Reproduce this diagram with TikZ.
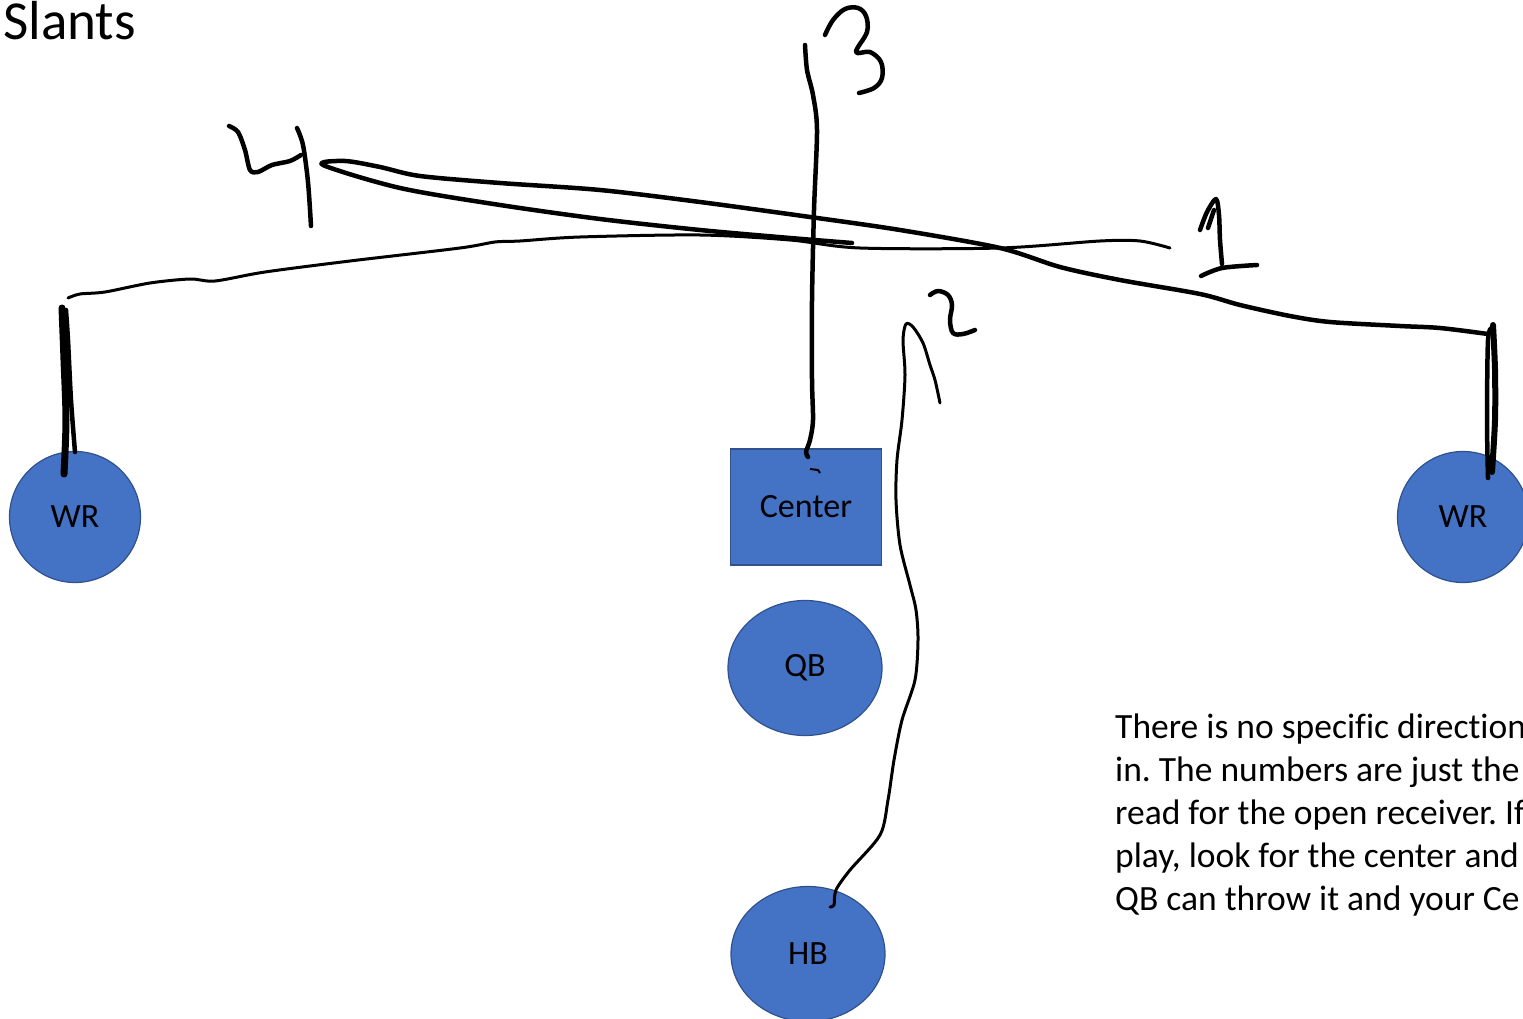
\documentclass[tikz,border=0pt]{standalone}
\usepackage{fontspec}
\setmainfont{Carlito}[Ligatures=CommonOff]
\usetikzlibrary{shapes.geometric}
\definecolor{playerblue}{HTML}{4472C4}
\definecolor{playeredge}{HTML}{2F528F}
\frenchspacing

\begin{document}
\begin{tikzpicture}[x=1pt,y=-1pt,
    player/.style={fill=playerblue, draw=playeredge, line width=1.2pt,
      font=\fontsize{34}{40}\selectfont, inner sep=0pt},
    wr/.style={player, circle, minimum size=131pt},
    back/.style={player, ellipse, minimum width=154pt, minimum height=135pt},
    ink/.style={line width=4.5pt, line cap=round, line join=round},
    thinink/.style={line width=3pt, line cap=round, line join=round},
    notes/.style={align=left, anchor=base west, inner sep=0pt,
      font=\fontsize{35.5}{43}\selectfont}]
  \useasboundingbox (0,0) rectangle (1523,1019);
  \clip (0,0) rectangle (1523,1019);

  \node (title) [anchor=base west, inner sep=0pt, font=\fontsize{55}{60}\selectfont] at (3,40) {Slants};

  \node (lwr) [wr] at (75,517) {WR};
  \node (rwr) [wr] at (1463,517) {WR};
  \node (ctr) [player, rectangle, minimum width=151pt, minimum height=116pt] at (806,507) {Center};
  \node (qb) [back] at (805,668) {QB};
  \node (hb) [back] at (808,954) {HB};

  \node (note) [notes] at (1115,910) {There is no specific direction\\
    in. The numbers are just the\\
    read for the open receiver. If\\
    play, look for the center and\\
    QB can throw it and your Ce};

  % route 1
  \draw[line width=7pt, line cap=round] plot[smooth] coordinates {(64,474) (66,420) (64,360) (62,308)};
  \draw[ink] plot[smooth] coordinates {(75,452) (71,400) (68,340) (66,310)};
  \draw[thinink] plot[smooth, tension=0.5] coordinates {(68,298) (80,294) (105,292) (150,283) (190,279)
    (215,281) (265,272) (350,261) (460,248) (495,242) (520,241) (580,237) (700,235) (790,240)
    (860,248) (1000,248) (1100,241) (1140,241) (1170,248)};

  % route 4
  \draw[line width=6pt, line cap=round] plot[smooth] coordinates {(1492,472) (1495,420) (1495,370) (1493,325)};
  \draw[ink] plot[smooth] coordinates {(1488,478) (1487,420) (1488,340) (1492,328)};
  \draw[ink] plot[smooth, tension=0.5] coordinates {(1488,334) (1440,328) (1400,326) (1330,322)
    (1290,316) (1240,305) (1200,294) (1120,280) (1060,267) (1000,248) (900,230) (810,217)
    (700,202) (600,190) (500,183) (420,176) (380,167) (345,161) (323,165)
    (400,188) (500,205) (600,219) (700,230) (790,238) (852,243)};

  % route 3
  \draw[ink] plot[smooth, tension=0.5] coordinates {(808,457) (806,452) (810,440) (813,420)
    (812,380) (812,300) (814,210) (817,130) (813,95) (807,70) (805,45)};
  \draw[line width=2pt] (810,469) -- (818,470) -- (820,473);

  % route 2
  \draw[thinink] plot[smooth, tension=0.5] coordinates {(830,907) (834,905) (836,890) (850,870)
    (880,835) (888,800) (894,760) (902,720) (915,680) (918,640) (916,610) (910,585) (900,545)
    (896,500) (897,460) (902,420) (905,375) (903,340) (906,324) (913,327) (923,343) (930,365)
    (935,380) (940,403)};

  % read numbers
  \draw[ink] plot[smooth, tension=0.5] coordinates {(229,126) (238,132) (245,150) (250,170)
    (258,172) (272,165) (290,161) (301,155)};
  \draw[ink] plot[smooth, tension=0.5] coordinates {(297,128) (303,145) (308,182) (311,226)};
  \draw[ink] plot[smooth, tension=0.6] coordinates {(825,35) (833,20) (845,9) (858,8) (866,16)
    (867,32) (856,52) (870,52) (881,62) (882,78) (874,88) (859,93)};
  \draw[ink] plot[smooth, tension=0.6] coordinates {(930,295) (938,291) (948,295) (952,305)
    (950,320) (953,333) (963,334) (975,330)};
  \draw[ink] plot[smooth, tension=0.5] coordinates {(1200,230) (1207,212) (1216,199) (1219,215)
    (1220,240) (1222,264)};
  \draw[ink] (1208,228) -- (1214,210);
  \draw[ink] plot[smooth, tension=0.5] coordinates {(1201,276) (1222,268) (1257,265)};
\end{tikzpicture}
\end{document}
